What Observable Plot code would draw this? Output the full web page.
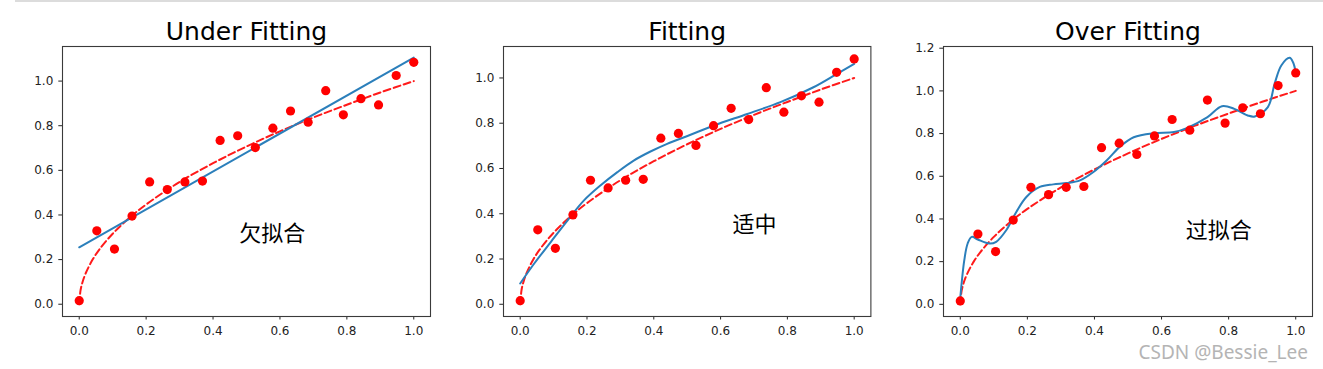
<!DOCTYPE html>
<html>
<head>
<meta charset="utf-8">
<script src="https://cdn.jsdelivr.net/npm/d3@7"></script>
<script src="https://cdn.jsdelivr.net/npm/@observablehq/plot@0.6"></script>
<style>
  html, body { margin: 0; padding: 0; background: white; }
  #root { position: relative; width: 1323px; height: 369px; overflow: hidden; background: white; }
  .topline { position: absolute; left: 15px; top: 0; width: 1308px; height: 2px; background: #dcdcdc; z-index: 5; }
  .wm { position: absolute; right: 15px; top: 342.5px; font-family: "Noto Sans", "DejaVu Sans", sans-serif; font-size: 19px; line-height: 19px; color: #b4b4b4; white-space: nowrap; z-index: 5; }
</style>
</head>
<body>
<div id="root"><div class="topline"></div><div class="wm">CSDN @Bessie_Lee</div></div>
<script>
// Sample points (x = 20 evenly spaced positions, y)
const pointX = [0, 0.0526, 0.1053, 0.1579, 0.2105, 0.2632, 0.3158, 0.3684, 0.4211, 0.4737, 0.5263, 0.5789, 0.6316, 0.6842, 0.7368, 0.7895, 0.8421, 0.8947, 0.9474, 1.0];
const pointY = [0.016, 0.329, 0.247, 0.395, 0.548, 0.514, 0.548, 0.552, 0.734, 0.755, 0.702, 0.789, 0.866, 0.816, 0.957, 0.849, 0.921, 0.893, 1.025, 1.084];

// Red dashed reference curve
const refX = [0, 0.004, 0.01, 0.02, 0.04, 0.06, 0.1, 0.15, 0.2, 0.3, 0.4, 0.5, 0.6, 0.7, 0.8, 0.9, 1.0];
const refY = [0, 0.063, 0.1, 0.141, 0.2, 0.245, 0.316, 0.387, 0.447, 0.548, 0.632, 0.707, 0.775, 0.837, 0.894, 0.949, 1.0];

// Blue fitted curves
const underX = [0, 1];
const underY = [0.255, 1.105];
const fitX = [0, 0.042, 0.092, 0.142, 0.191, 0.241, 0.291, 0.341, 0.39, 0.44, 0.51, 0.58, 0.68, 0.779, 0.878, 0.948, 1.0];
const fitY = [0.092, 0.18, 0.276, 0.371, 0.459, 0.526, 0.584, 0.636, 0.675, 0.709, 0.749, 0.79, 0.841, 0.893, 0.959, 1.018, 1.062];
const overX = [0, 0.012, 0.022, 0.034, 0.052, 0.087, 0.107, 0.137, 0.167, 0.197, 0.237, 0.277, 0.317, 0.357, 0.397, 0.437, 0.477, 0.517, 0.577, 0.637, 0.677, 0.737, 0.78, 0.817, 0.857, 0.878, 0.917, 0.937, 0.957, 0.982, 0.992, 1.0];
const overY = [0.03, 0.207, 0.285, 0.316, 0.304, 0.285, 0.293, 0.347, 0.433, 0.503, 0.55, 0.562, 0.568, 0.581, 0.62, 0.675, 0.74, 0.783, 0.802, 0.807, 0.827, 0.877, 0.928, 0.916, 0.885, 0.88, 0.924, 1.033, 1.119, 1.155, 1.134, 1.087];

// Panel texts and axes
const titles = ["Under Fitting", "Fitting", "Over Fitting"];
const notes = ["欠拟合", "适中", "过拟合"];
const noteX = [0.478, 0.636, 0.672];
const noteY = [0.315, 0.349, 0.343];
const xTicks = [0, 0.2, 0.4, 0.6, 0.8, 1.0];
const yTicksA = [0, 0.2, 0.4, 0.6, 0.8, 1.0];
const yTicksB = [0, 0.2, 0.4, 0.6, 0.8, 1.0, 1.2];
const yDomains = [[-0.055, 1.155], [-0.054, 1.139], [-0.057, 1.208]];
const curvesX = [underX, fitX, overX];
const curvesY = [underY, fitY, overY];
const yTickSets = [yTicksA, yTicksA, yTicksB];

// layout
const frameLeft = [62, 503.3, 943.3];
const frameW = [368, 367.4, 369];
const mL = 50, mR = 10, mT = 46, mB = 53, H = 369;

const pts = pointX.map((x, i) => ({x, y: pointY[i]}));
const ref = refX.map((x, i) => ({x, y: refY[i]}));

const root = document.getElementById("root");
for (let k = 0; k < 3; k++) {
  const fit = curvesX[k].map((x, i) => ({x, y: curvesY[k][i]}));
  const W = mL + frameW[k] + mR;
  const chart = Plot.plot({
    width: W,
    height: H,
    marginLeft: mL, marginRight: mR, marginTop: mT, marginBottom: mB,
    style: {fontFamily: "DejaVu Sans", fontSize: "12px", color: "#222", background: "transparent", overflow: "visible"},
    x: {domain: [-0.05, 1.05]},
    y: {domain: yDomains[k]},
    marks: [
      Plot.axisX({ticks: xTicks, tickSize: 3.5, tickPadding: 6.5, tickFormat: d3.format(".1f"), label: null, stroke: "#222", fontSize: 12}),
      Plot.axisY({ticks: yTickSets[k], tickSize: 3.7, tickPadding: 5.5, tickFormat: d3.format(".1f"), label: null, stroke: "#222", fontSize: 12}),
      Plot.line(ref, {x: "x", y: "y", stroke: "#ff1a1a", strokeWidth: 2, strokeDasharray: "7,3.5", curve: "catmull-rom"}),
      Plot.line(fit, {x: "x", y: "y", stroke: "#2b7fbb", strokeWidth: 2, curve: "catmull-rom"}),
      Plot.dot(pts, {x: "x", y: "y", r: 4.6, fill: "red", stroke: "none"}),
      Plot.text([notes[k]], {x: () => noteX[k], y: () => noteY[k], text: d => d, textAnchor: "start", lineAnchor: "middle", fontSize: 22, fontFamily: "Noto Sans CJK SC", fill: "black"}),
      Plot.text([titles[k]], {frameAnchor: "top", text: d => d, lineAnchor: "bottom", dy: -6.5, fontSize: 25, fontFamily: "DejaVu Sans", fill: "black"}),
      Plot.frame({stroke: "#3a3a3a", strokeWidth: 1.1})
    ]
  });
  chart.style.position = "absolute";
  chart.style.left = (frameLeft[k] - mL) + "px";
  chart.style.top = "0px";
  root.appendChild(chart);
}
</script>
</body>
</html>
